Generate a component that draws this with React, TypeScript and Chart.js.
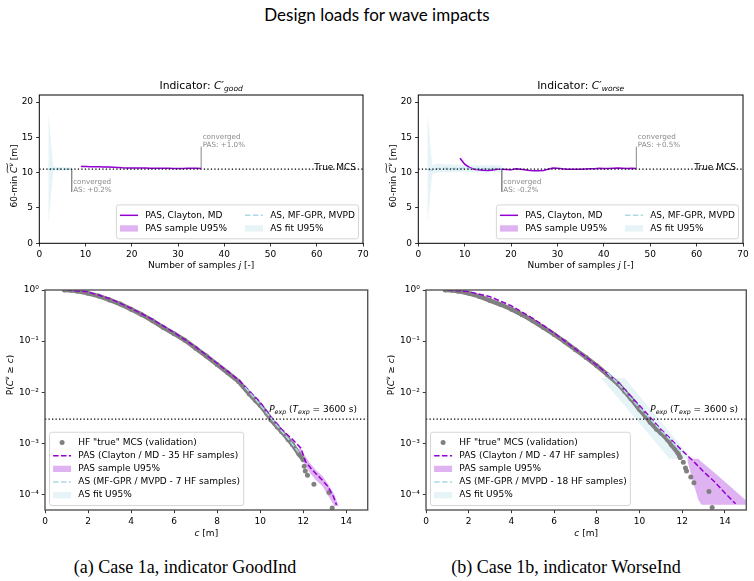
import { useEffect, useRef } from "react";
import { Chart, registerables } from "chart.js";

Chart.register(...registerables);

const FONT = '"DejaVu Sans"';
const BASE = 9;

const PAS_COLOR = "#9400d3";
const PAS_FILL = "rgba(148, 0, 211, 0.3)";
const AS_COLOR = "#add8e6";
const AS_FILL = "rgba(173, 216, 230, 0.3)";
const MCS_COLOR = "#808080";
const NOTE_COLOR = "#8a8a8a";

// ---------- Top row: 60-min design value vs. number of HF samples ----------
const TRUE_MCS = 10.5;
const SAMPLE_TICKS = [0, 10, 20, 30, 40, 50, 60, 70];
const DESIGN_TICKS = [0, 5, 10, 15, 20];
const NOTE_LOW = 7.3;
const NOTE_HIGH = 13.7;

// Case 1a (GoodInd)
const goodAsSamples = [2, 3, 4, 5, 6, 7];
const goodAsValue = [10.5, 10.55, 10.55, 10.52, 10.5, 10.52];
const goodAsUpper = [18.4, 10.9, 10.8, 10.78, 10.75, 10.75];
const goodAsLower = [2.8, 10.2, 10.28, 10.3, 10.3, 10.32];

const goodPasSamples = [9, 10, 11, 12, 13, 14, 15, 16, 17, 18, 19, 20, 21, 22, 23, 24, 25, 26, 27, 28, 29, 30, 31, 32, 33, 34, 35];
const goodPasValue = [10.86, 10.86, 10.85, 10.84, 10.83, 10.82, 10.8, 10.78, 10.74, 10.7, 10.68, 10.67, 10.66, 10.66, 10.65, 10.64, 10.63, 10.62, 10.62, 10.61, 10.6, 10.6, 10.6, 10.61, 10.61, 10.61, 10.6];
const goodPasUpper = [10.98, 10.97, 10.95, 10.93, 10.91, 10.89, 10.87, 10.84, 10.79, 10.74, 10.72, 10.7, 10.69, 10.69, 10.68, 10.67, 10.66, 10.65, 10.65, 10.64, 10.63, 10.63, 10.62, 10.63, 10.63, 10.63, 10.62];
const goodPasLower = [10.8, 10.8, 10.8, 10.79, 10.78, 10.77, 10.75, 10.73, 10.69, 10.66, 10.64, 10.63, 10.63, 10.63, 10.62, 10.61, 10.6, 10.6, 10.6, 10.59, 10.58, 10.58, 10.58, 10.59, 10.59, 10.59, 10.58];

// Case 1b (WorseInd)
const worseAsSamples = [2, 3, 4, 5, 6, 7, 8, 9, 10, 11, 12, 13, 14, 15, 16, 17, 18];
const worseAsValue = [10.45, 10.35, 10.55, 10.6, 10.62, 10.6, 10.58, 10.6, 10.62, 10.6, 10.55, 10.6, 10.58, 10.55, 10.6, 10.58, 10.55];
const worseAsUpper = [18.5, 11.0, 11.25, 11.2, 11.15, 11.2, 11.1, 11.15, 11.1, 11.15, 11.05, 11.1, 11.05, 11.05, 11.1, 11.05, 11.05];
const worseAsLower = [2.8, 9.85, 10.0, 10.1, 10.1, 10.05, 10.1, 10.1, 10.15, 10.1, 10.05, 10.1, 10.05, 10.05, 10.1, 10.05, 10.0];

const worsePasSamples = [9, 10, 11, 12, 13, 14, 15, 16, 17, 18, 19, 20, 21, 22, 23, 24, 25, 26, 27, 28, 29, 30, 31, 32, 33, 34, 35, 36, 37, 38, 39, 40, 41, 42, 43, 44, 45, 46, 47];
const worsePasValue = [12.05, 11.2, 10.75, 10.5, 10.4, 10.35, 10.32, 10.38, 10.5, 10.5, 10.45, 10.4, 10.55, 10.5, 10.4, 10.3, 10.28, 10.28, 10.32, 10.5, 10.65, 10.62, 10.55, 10.5, 10.5, 10.5, 10.5, 10.52, 10.55, 10.55, 10.62, 10.6, 10.6, 10.62, 10.65, 10.62, 10.6, 10.62, 10.6];
const worsePasUpper = [12.2, 11.35, 10.85, 10.58, 10.47, 10.42, 10.38, 10.44, 10.56, 10.55, 10.5, 10.45, 10.6, 10.55, 10.45, 10.35, 10.33, 10.33, 10.37, 10.55, 10.7, 10.66, 10.59, 10.54, 10.54, 10.54, 10.54, 10.56, 10.59, 10.59, 10.66, 10.64, 10.64, 10.66, 10.69, 10.66, 10.64, 10.66, 10.64];
const worsePasLower = [11.9, 11.05, 10.65, 10.42, 10.33, 10.28, 10.26, 10.32, 10.44, 10.45, 10.4, 10.35, 10.5, 10.45, 10.35, 10.25, 10.23, 10.23, 10.27, 10.45, 10.6, 10.58, 10.51, 10.46, 10.46, 10.46, 10.46, 10.48, 10.51, 10.51, 10.58, 10.56, 10.56, 10.58, 10.61, 10.58, 10.56, 10.58, 10.56];

// ---------- Bottom row: exceedance probability P(C >= c) ----------
const P_EXP = 0.003;
const C_TICKS = [0, 2, 4, 6, 8, 10, 12, 14];
const P_TICKS = [1e-4, 1e-3, 1e-2, 1e-1, 1];

// Case 1a
const goodMcsC = [0.9, 1.2, 1.5, 2.0, 2.5, 3.0, 3.5, 4.0, 4.5, 5.0, 5.5, 6.0, 6.5, 7.0, 7.5, 8.0, 8.5, 9.0, 9.5, 9.8, 10.0, 10.3, 10.5, 10.8, 11.0, 11.3, 11.5, 11.8, 12.0];
const goodMcsP = [1.0, 0.99, 0.95, 0.86, 0.76, 0.64, 0.53, 0.42, 0.33, 0.25, 0.185, 0.14, 0.104, 0.073, 0.051, 0.035, 0.024, 0.0163, 0.0093, 0.0068, 0.0056, 0.0039, 0.0029, 0.0021, 0.0017, 0.0012, 0.00095, 0.00062, 0.00048];
const goodMcsTailC = [12.05, 12.1, 12.2, 12.5, 13.2, 13.35];
const goodMcsTailP = [3.6e-4, 2.9e-4, 2.4e-4, 1.6e-4, 1.1e-4, 5.5e-5];

const goodPasC = [1.0, 2.0, 3.0, 4.0, 5.0, 6.0, 7.0, 8.0, 9.0, 10.0, 10.5, 11.0, 11.5, 11.9, 12.1, 12.4, 12.85, 13.15, 13.4, 13.55];
const goodPasP = [1.0, 0.92, 0.68, 0.44, 0.265, 0.148, 0.077, 0.037, 0.0175, 0.0064, 0.0033, 0.0019, 0.0012, 0.00081, 0.00045, 0.00031, 0.0002, 0.000145, 0.000093, 0.000063];
const goodPasBandC = [11.8, 12.0, 12.3, 12.6, 12.9, 13.2, 13.45, 13.65];
const goodPasBandUpper = [9.5e-4, 6.5e-4, 4.2e-4, 3.0e-4, 2.3e-4, 1.5e-4, 1.0e-4, 6e-5];
const goodPasBandLower = [7.5e-4, 4.5e-4, 2.7e-4, 1.9e-4, 1.45e-4, 9e-5, 6e-5, 6e-5];

const goodAsC = [9.3, 9.8, 10.3, 10.8, 11.3, 11.8];
const goodAsP = [0.0125, 0.0072, 0.004, 0.0022, 0.00125, 0.00066];
const goodAsBandUpper = [0.0145, 0.0084, 0.0047, 0.0026, 0.00148, 0.0008];
const goodAsBandLower = [0.0108, 0.0062, 0.0034, 0.0019, 0.00106, 0.00055];

// Case 1b
const worseMcsC = [0.9, 1.2, 1.5, 2.0, 2.5, 3.0, 3.5, 4.0, 4.5, 5.0, 5.5, 6.0, 6.5, 7.0, 7.5, 8.0, 8.5, 9.0, 9.3, 9.6, 10.0, 10.3, 10.5, 10.8, 11.0, 11.3, 11.5, 11.8, 11.9];
const worseMcsP = [1.0, 0.99, 0.95, 0.86, 0.75, 0.62, 0.52, 0.42, 0.33, 0.25, 0.185, 0.135, 0.097, 0.068, 0.048, 0.033, 0.022, 0.0145, 0.0105, 0.0075, 0.0046, 0.0033, 0.0026, 0.0019, 0.0016, 0.0012, 0.00093, 0.00065, 0.00053];
const worseMcsTailC = [12.05, 12.15, 12.2, 12.4, 12.55, 13.25, 13.4];
const worseMcsTailP = [4.3e-4, 3.3e-4, 2.9e-4, 2.2e-4, 1.7e-4, 1.15e-4, 5.6e-5];

const worsePasC = [1.0, 2.0, 3.0, 4.0, 5.0, 6.0, 7.0, 8.0, 9.0, 10.0, 10.6, 11.0, 11.5, 12.0, 12.5, 13.0, 13.5, 14.0, 14.5];
const worsePasP = [1.0, 0.93, 0.74, 0.49, 0.28, 0.145, 0.07, 0.034, 0.0155, 0.0055, 0.0029, 0.0019, 0.00117, 0.00072, 0.00046, 0.00028, 0.00018, 0.000107, 0.000066];
const worsePasBandC = [12.25, 12.5, 12.75, 12.9, 13.5, 14.2, 15.0];
const worsePasBandUpper = [5.2e-4, 5.0e-4, 5.0e-4, 4.4e-4, 2.7e-4, 1.5e-4, 7.6e-5];
const worsePasBandLower = [4.5e-4, 1.8e-4, 8e-5, 6.3e-5, 6.3e-5, 6.3e-5, 6.3e-5];

const worseAsC = [8.5, 9.0, 9.5, 10.0, 10.5, 11.0, 11.5, 12.0];
const worseAsP = [0.024, 0.0148, 0.0085, 0.005, 0.003, 0.0018, 0.0011, 0.00062];
const worseAsBandUpperC = [8.2, 9.3, 12.45];
const worseAsBandUpperP = [0.019, 0.019, 5e-4];
const worseAsBandLowerC = [8.2, 11.4, 12.45];
const worseAsBandLowerP = [0.019, 5e-4, 5e-4];

// ---------- helpers ----------
type Part = { t: string; it?: boolean; sub?: boolean; sup?: boolean; tilde?: boolean };
type LegendItem = { kind: "line" | "patch" | "dot"; color: string; label: string; dash?: number[] };
type Note = { x: number; y: number; lines: string[] };
type Label = { parts: Part[]; x: number; y: number; dx: number; dy: number; align: "left" | "right" | "center"; size: number };

type PanelSpec = {
  id: string;
  left: number; top: number; width: number; height: number;
  padTop: number; padRight: number; yWidth: number; xHeight: number;
  x: { min: number; max: number; ticks: number[] };
  y: { type: "linear" | "logarithmic"; min: number; max: number; ticks: number[] };
  datasets: any[];
  frame: { color: string; width: number };
  title?: Part[];
  yTitle: Part[]; yTitleDx: number; yTitleDy: number;
  xTitle: Part[]; xTitleDy: number;
  notes: Note[];
  labels: Label[];
  legend: { items: LegendItem[]; ncol: number; anchor: "lower right" | "lower left" };
};

const pts = (xs: number[], ys: number[]) => xs.map((x, i) => ({ x, y: ys[i] }));
const polygon = (ux: number[], uy: number[], lx: number[], ly: number[]) => [...pts(ux, uy), ...pts(lx, ly).reverse()];

const line = (data: any[], color: string, width: number, dash: number[], order: number) => ({
  data, borderColor: color, borderWidth: width, borderDash: dash, pointRadius: 0, fill: false, order,
});
const area = (data: any[], color: string, order: number) => ({
  data, backgroundColor: color, borderColor: "rgba(0,0,0,0)", borderWidth: 0, pointRadius: 0, fill: "shape", order,
});
const dots = (data: any[], joined: boolean, order: number) => ({
  data, showLine: joined, borderColor: MCS_COLOR, borderWidth: joined ? 4.5 : 0,
  borderJoinStyle: "round", borderCapStyle: "round",
  pointRadius: 2.5, pointBackgroundColor: MCS_COLOR, pointBorderColor: MCS_COLOR, pointBorderWidth: 0,
  fill: false, order,
});

const SUP: Record<string, string> = { "-": "\u207b", "0": "\u2070", "1": "\u00b9", "2": "\u00b2", "3": "\u00b3", "4": "\u2074", "5": "\u2075", "6": "\u2076", "7": "\u2077", "8": "\u2078", "9": "\u2079" };
const powLabel = (v: number) => "10" + String(Math.round(Math.log10(v))).split("").map((ch) => SUP[ch]).join("");

function drawRich(ctx: CanvasRenderingContext2D, parts: Part[], x: number, y: number, size: number, align: "left" | "center" | "right", color: string) {
  const fontOf = (p: Part) => `${p.it ? "italic " : ""}${p.sub || p.sup ? size * 0.7 : size}px ${FONT}`;
  const widths = parts.map((p) => { ctx.font = fontOf(p); return ctx.measureText(p.t).width; });
  const total = widths.reduce((a, b) => a + b, 0);
  let cx = align === "left" ? x : align === "center" ? x - total / 2 : x - total;
  ctx.fillStyle = color;
  ctx.textAlign = "left";
  ctx.textBaseline = "alphabetic";
  let t0 = NaN;
  let t1 = NaN;
  parts.forEach((p, i) => {
    ctx.font = fontOf(p);
    const dy = p.sub ? size * 0.22 : p.sup ? -size * 0.42 : 0;
    ctx.fillText(p.t, cx, y + dy);
    if (p.tilde) { if (isNaN(t0)) t0 = cx; t1 = cx + widths[i]; }
    cx += widths[i];
  });
  if (!isNaN(t0)) {
    const ty = y - size * 1.02;
    const a = size * 0.09;
    const w = t1 - t0;
    ctx.beginPath();
    ctx.moveTo(t0, ty + a);
    ctx.bezierCurveTo(t0 + w * 0.35, ty - 2.2 * a, t0 + w * 0.65, ty + 2.2 * a, t1, ty - a);
    ctx.strokeStyle = color;
    ctx.lineWidth = 0.8;
    ctx.stroke();
  }
}

function drawLegend(ctx: CanvasRenderingContext2D, ca: any, lg: PanelSpec["legend"], f: number) {
  const pad = 0.4 * f, hl = 2 * f, htp = 0.8 * f, cs = 2 * f, pitch = 1.46 * f, padV = 0.42 * f, inset = 0.5 * f;
  const items = lg.items;
  const nrows = Math.ceil(items.length / lg.ncol);
  ctx.save();
  ctx.font = `${f}px ${FONT}`;
  const colW: number[] = [];
  for (let c = 0; c < lg.ncol; c++) {
    const col = items.slice(c * nrows, (c + 1) * nrows);
    colW.push(Math.max(...col.map((it) => ctx.measureText(it.label).width)));
  }
  const width = 2 * pad + colW.reduce((a, w) => a + hl + htp + w, 0) + (lg.ncol - 1) * cs;
  const height = 2 * padV + nrows * pitch;
  const x0 = lg.anchor === "lower right" ? ca.right - inset - width : ca.left + inset;
  const y0 = ca.bottom - inset - height;
  ctx.beginPath();
  ctx.roundRect(x0, y0, width, height, 0.25 * f);
  ctx.fillStyle = "rgba(255,255,255,0.8)";
  ctx.fill();
  ctx.strokeStyle = "#cccccc";
  ctx.lineWidth = 0.8;
  ctx.stroke();
  let cx = x0 + pad;
  for (let c = 0; c < lg.ncol; c++) {
    items.slice(c * nrows, (c + 1) * nrows).forEach((it, r) => {
      const cy = y0 + padV + (r + 0.5) * pitch;
      if (it.kind === "line") {
        ctx.beginPath();
        ctx.setLineDash(it.dash || []);
        ctx.moveTo(cx, cy);
        ctx.lineTo(cx + hl, cy);
        ctx.strokeStyle = it.color;
        ctx.lineWidth = 1.5;
        ctx.stroke();
        ctx.setLineDash([]);
      } else if (it.kind === "patch") {
        ctx.fillStyle = it.color;
        ctx.fillRect(cx, cy - 0.35 * f, hl, 0.7 * f);
      } else {
        ctx.beginPath();
        ctx.arc(cx + hl / 2, cy, 2.5, 0, Math.PI * 2);
        ctx.fillStyle = it.color;
        ctx.fill();
      }
      ctx.fillStyle = "#000";
      ctx.font = `${f}px ${FONT}`;
      ctx.textAlign = "left";
      ctx.textBaseline = "middle";
      ctx.fillText(it.label, cx + hl + htp, cy);
    });
    cx += hl + htp + colW[c] + cs;
  }
  ctx.restore();
}

function decor(s: PanelSpec) {
  return {
    id: "decor-" + s.id,
    afterDatasetsDraw(chart: any) {
      const ctx: CanvasRenderingContext2D = chart.ctx;
      const ca = chart.chartArea;
      const xs = chart.scales.x;
      const ys = chart.scales.y;
      ctx.save();
      // frame
      ctx.strokeStyle = s.frame.color;
      ctx.lineWidth = s.frame.width;
      ctx.strokeRect(ca.left, ca.top, ca.right - ca.left, ca.bottom - ca.top);
      // title
      if (s.title) drawRich(ctx, s.title, (ca.left + ca.right) / 2, ca.top - 6, BASE * 1.2, "center", "#000");
      // axis titles
      drawRich(ctx, s.xTitle, (ca.left + ca.right) / 2, ca.bottom + s.xTitleDy, BASE, "center", "#000");
      ctx.save();
      ctx.translate(ca.left - s.yTitleDx, ca.top + s.yTitleDy);
      ctx.rotate(-Math.PI / 2);
      drawRich(ctx, s.yTitle, 0, BASE * 0.36, BASE, "center", "#000");
      ctx.restore();
      // convergence notes
      s.notes.forEach((n) => {
        const px = xs.getPixelForValue(n.x) + 1.5;
        const py = ys.getPixelForValue(n.y) + 0.5;
        ctx.font = `${BASE * 0.8}px ${FONT}`;
        ctx.fillStyle = NOTE_COLOR;
        ctx.textAlign = "left";
        ctx.textBaseline = "alphabetic";
        n.lines.forEach((t, i) => ctx.fillText(t, px, py - (n.lines.length - 1 - i) * 8));
      });
      // free labels
      s.labels.forEach((l) => {
        drawRich(ctx, l.parts, xs.getPixelForValue(l.x) + l.dx, ys.getPixelForValue(l.y) + l.dy, l.size, l.align, "#000");
      });
      drawLegend(ctx, ca, s.legend, BASE);
      ctx.restore();
    },
  };
}

function buildConfig(s: PanelSpec): any {
  const tickFont = { family: "DejaVu Sans", size: BASE };
  const grid = { display: true, drawOnChartArea: false, drawTicks: true, tickLength: 3.2, color: "#000", lineWidth: 0.8 };
  return {
    type: "line",
    data: { datasets: s.datasets },
    options: {
      responsive: false,
      animation: false,
      devicePixelRatio: 1,
      events: [],
      layout: { padding: { top: s.padTop, right: s.padRight, left: 0, bottom: 0 } },
      plugins: { legend: { display: false }, title: { display: false }, tooltip: { enabled: false } },
      scales: {
        x: {
          type: "linear",
          position: "bottom",
          min: s.x.min,
          max: s.x.max,
          grid,
          border: { display: false },
          ticks: { color: "#000", font: tickFont, padding: 3, maxRotation: 0, minRotation: 0, autoSkip: false, callback: (v: number) => String(v) },
          afterBuildTicks: (sc: any) => { sc.ticks = s.x.ticks.map((v) => ({ value: v })); },
          afterFit: (sc: any) => { sc.height = s.xHeight; sc.paddingLeft = 0; sc.paddingRight = 0; },
        },
        y: {
          type: s.y.type,
          position: "left",
          min: s.y.min,
          max: s.y.max,
          grid,
          border: { display: false },
          ticks: {
            color: "#000", font: tickFont, padding: 3, autoSkip: false,
            callback: s.y.type === "logarithmic" ? (v: number) => powLabel(v) : (v: number) => String(v),
          },
          afterBuildTicks: (sc: any) => { sc.ticks = s.y.ticks.map((v) => ({ value: v })); },
          afterFit: (sc: any) => { sc.width = s.yWidth; sc.paddingTop = 0; sc.paddingBottom = 0; },
        },
      },
    },
    plugins: [decor(s)],
  };
}

// ---------- panel definitions ----------
const DASH = [5.5, 2.4];
const DOT = [1.3, 2.2];

const topLegend = (): PanelSpec["legend"] => ({
  ncol: 2,
  anchor: "lower right",
  items: [
    { kind: "line", color: PAS_COLOR, label: "PAS, Clayton, MD" },
    { kind: "patch", color: PAS_FILL, label: "PAS sample U95%" },
    { kind: "line", color: AS_COLOR, label: "AS, MF-GPR, MVPD", dash: DASH },
    { kind: "patch", color: AS_FILL, label: "AS fit U95%" },
  ],
});

const bottomLegend = (pasLabel: string, asLabel: string): PanelSpec["legend"] => ({
  ncol: 1,
  anchor: "lower left",
  items: [
    { kind: "dot", color: MCS_COLOR, label: 'HF "true" MCS (validation)' },
    { kind: "line", color: PAS_COLOR, label: pasLabel, dash: DASH },
    { kind: "patch", color: PAS_FILL, label: "PAS sample U95%" },
    { kind: "line", color: AS_COLOR, label: asLabel, dash: DASH },
    { kind: "patch", color: AS_FILL, label: "AS fit U95%" },
  ],
});

const designYTitle: Part[] = [{ t: "60-min " }, { t: "C", it: true, tilde: true }, { t: "\u03bd", it: true, sup: true, tilde: true }, { t: " [m]" }];
const samplesXTitle: Part[] = [{ t: "Number of samples " }, { t: "j", it: true }, { t: " [-]" }];
const probYTitle: Part[] = [{ t: "P(" }, { t: "C", it: true }, { t: "\u03bd", it: true, sup: true }, { t: " \u2265 " }, { t: "c", it: true }, { t: ")" }];
const cXTitle: Part[] = [{ t: "c", it: true }, { t: " [m]" }];
const pExpParts: Part[] = [{ t: "P", it: true }, { t: "exp", it: true, sub: true }, { t: " (" }, { t: "T", it: true }, { t: "exp", it: true, sub: true }, { t: " = 3600 s)" }];
const trueMcsParts: Part[] = [{ t: "True MCS" }];

const topCommon = {
  top: 75, width: 377, height: 205, padTop: 20, xHeight: 36.7,
  x: { min: 0, max: 70, ticks: SAMPLE_TICKS },
  y: { type: "linear" as const, min: 0, max: 21, ticks: DESIGN_TICKS },
  frame: { color: "#000", width: 1 },
  yTitle: designYTitle, yTitleDx: 26, yTitleDy: 81,
  xTitle: samplesXTitle, xTitleDy: 25,
};

const bottomCommon = {
  top: 280, width: 377, height: 260, padTop: 10, xHeight: 30,
  x: { min: 0, max: 15, ticks: C_TICKS },
  y: { type: "logarithmic" as const, min: 5e-5, max: 1, ticks: P_TICKS },
  frame: { color: "#555", width: 1.4 },
  yTitle: probYTitle, yTitleDx: 35, yTitleDy: 85,
  xTitle: cXTitle, xTitleDy: 26,
  notes: [],
};

const PANELS: PanelSpec[] = [
  {
    ...topCommon,
    id: "good-conv", left: 0, padRight: 14, yWidth: 39.3,
    title: [{ t: "Indicator: " }, { t: "C\u2032", it: true }, { t: "good", it: true, sub: true }],
    datasets: [
      line(pts([0, 70], [TRUE_MCS, TRUE_MCS]), "#000", 1.3, DOT, 0),
      line(pts(goodAsSamples, goodAsValue), AS_COLOR, 1.5, DASH, 1),
      line(pts(goodPasSamples, goodPasValue), PAS_COLOR, 1.5, [], 2),
      line(pts([7, 7], [goodAsValue[goodAsValue.length - 1], NOTE_LOW]), NOTE_COLOR, 1, [], 3),
      line(pts([35, 35], [goodPasValue[goodPasValue.length - 1], NOTE_HIGH]), NOTE_COLOR, 1, [], 3),
      area(polygon(goodPasSamples, goodPasUpper, goodPasSamples, goodPasLower), PAS_FILL, 4),
      area(polygon(goodAsSamples, goodAsUpper, goodAsSamples, goodAsLower), AS_FILL, 5),
    ],
    notes: [
      { x: 7, y: NOTE_LOW, lines: ["converged", "AS: +0.2%"] },
      { x: 35, y: NOTE_HIGH, lines: ["converged", "PAS: +1.0%"] },
    ],
    labels: [{ parts: trueMcsParts, x: 70, y: TRUE_MCS, dx: -7, dy: 0.5, align: "right", size: BASE }],
    legend: topLegend(),
  },
  {
    ...topCommon,
    id: "worse-conv", left: 377, padRight: 11, yWidth: 41.3,
    title: [{ t: "Indicator: " }, { t: "C\u2032", it: true }, { t: "worse", it: true, sub: true }],
    datasets: [
      line(pts([0, 70], [TRUE_MCS, TRUE_MCS]), "#000", 1.3, DOT, 0),
      line(pts(worseAsSamples, worseAsValue), AS_COLOR, 1.5, DASH, 1),
      line(pts(worsePasSamples, worsePasValue), PAS_COLOR, 1.5, [], 2),
      line(pts([18, 18], [worseAsValue[worseAsValue.length - 1], NOTE_LOW]), NOTE_COLOR, 1, [], 3),
      line(pts([47, 47], [worsePasValue[worsePasValue.length - 1], NOTE_HIGH]), NOTE_COLOR, 1, [], 3),
      area(polygon(worsePasSamples, worsePasUpper, worsePasSamples, worsePasLower), PAS_FILL, 4),
      area(polygon(worseAsSamples, worseAsUpper, worseAsSamples, worseAsLower), AS_FILL, 5),
    ],
    notes: [
      { x: 18, y: NOTE_LOW, lines: ["converged", "AS: -0.2%"] },
      { x: 47, y: NOTE_HIGH, lines: ["converged", "PAS: +0.5%"] },
    ],
    labels: [{ parts: trueMcsParts, x: 70, y: TRUE_MCS, dx: -7, dy: 0.5, align: "right", size: BASE }],
    legend: topLegend(),
  },
  {
    ...bottomCommon,
    id: "good-exc", left: 0, padRight: 9.3, yWidth: 45,
    datasets: [
      line(pts([0, 15], [P_EXP, P_EXP]), "#000", 1.3, DOT, 0),
      line(pts(goodAsC, goodAsP), AS_COLOR, 1.5, DASH, 1),
      line(pts(goodPasC, goodPasP), PAS_COLOR, 1.5, DASH, 2),
      dots(pts(goodMcsC, goodMcsP), true, 3),
      dots(pts(goodMcsTailC, goodMcsTailP), false, 3),
      area(polygon(goodPasBandC, goodPasBandUpper, goodPasBandC, goodPasBandLower), PAS_FILL, 4),
      area(polygon(goodAsC, goodAsBandUpper, goodAsC, goodAsBandLower), AS_FILL, 5),
    ],
    labels: [{ parts: pExpParts, x: 10.42, y: P_EXP, dx: 0, dy: -7, align: "left", size: BASE }],
    legend: bottomLegend("PAS (Clayton / MD - 35 HF samples)", "AS (MF-GPR / MVPD - 7 HF samples)"),
  },
  {
    ...bottomCommon,
    id: "worse-exc", left: 377, padRight: 7.7, yWidth: 49,
    datasets: [
      line(pts([0, 15], [P_EXP, P_EXP]), "#000", 1.3, DOT, 0),
      line(pts(worseAsC, worseAsP), AS_COLOR, 1.5, DASH, 1),
      line(pts(worsePasC, worsePasP), PAS_COLOR, 1.5, DASH, 2),
      dots(pts(worseMcsC, worseMcsP), true, 3),
      dots(pts(worseMcsTailC, worseMcsTailP), false, 3),
      area(polygon(worsePasBandC, worsePasBandUpper, worsePasBandC, worsePasBandLower), PAS_FILL, 4),
      area(polygon(worseAsBandUpperC, worseAsBandUpperP, worseAsBandLowerC, worseAsBandLowerP), AS_FILL, 5),
    ],
    labels: [{ parts: pExpParts, x: 10.5, y: P_EXP, dx: 0, dy: -7, align: "left", size: BASE }],
    legend: bottomLegend("PAS (Clayton / MD - 47 HF samples)", "AS (MF-GPR / MVPD - 18 HF samples)"),
  },
];

function Panel({ spec }: { spec: PanelSpec }) {
  const ref = useRef<HTMLCanvasElement>(null);
  useEffect(() => {
    const chart = new Chart(ref.current as HTMLCanvasElement, buildConfig(spec));
    return () => chart.destroy();
  }, [spec]);
  return (
    <canvas
      ref={ref}
      width={spec.width}
      height={spec.height}
      style={{ position: "absolute", left: spec.left, top: spec.top, width: spec.width, height: spec.height }}
    />
  );
}

const captionStyle = {
  position: "absolute" as const,
  width: 320,
  top: 557,
  lineHeight: "20px",
  textAlign: "center" as const,
  fontFamily: '"Liberation Serif", serif',
  fontSize: 18,
  color: "#000",
  whiteSpace: "nowrap" as const,
};

export default function App() {
  return (
    <div style={{ position: "absolute", left: 0, top: 0, width: 754, height: 581, background: "#fff", overflow: "hidden" }}>
      <div
        style={{
          position: "absolute", left: 0, top: 4, width: 754, lineHeight: "22px", textAlign: "center",
          fontFamily: "Lato, sans-serif", fontSize: 17, color: "#000", whiteSpace: "nowrap",
        }}
      >
        Design loads for wave impacts
      </div>
      {PANELS.map((p) => (
        <Panel key={p.id} spec={p} />
      ))}
      <div style={{ ...captionStyle, left: 185 - 160 }}>(a) Case 1a, indicator GoodInd</div>
      <div style={{ ...captionStyle, left: 566 - 160 }}>(b) Case 1b, indicator WorseInd</div>
    </div>
  );
}
